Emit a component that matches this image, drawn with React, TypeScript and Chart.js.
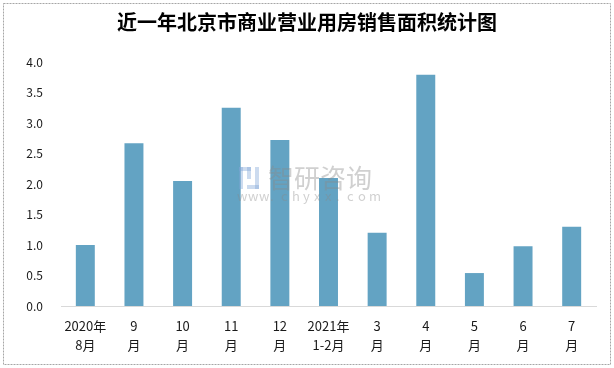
import React, { useEffect, useRef } from "react";
import { Chart, registerables } from "chart.js";

Chart.register(...registerables);

const TITLE = "近一年北京市商业营业用房销售面积统计图";
const categories: string[][] = [
  ["2020年", "8月"],
  ["9", "月"],
  ["10", "月"],
  ["11", "月"],
  ["12", "月"],
  ["2021年", "1-2月"],
  ["3", "月"],
  ["4", "月"],
  ["5", "月"],
  ["6", "月"],
  ["7", "月"],
];
const salesArea: number[] = [1.0, 2.67, 2.05, 3.25, 2.72, 2.1, 1.2, 3.79, 0.54, 0.98, 1.3];
const yTicks: number[] = [0, 0.5, 1.0, 1.5, 2.0, 2.5, 3.0, 3.5, 4.0];

const FONT = "'Noto Sans CJK SC', 'Noto Sans', sans-serif";

const decorPlugin = {
  id: "decor",
  beforeDraw(chart: any) {
    const ctx = chart.ctx;
    ctx.save();
    ctx.fillStyle = "#ffffff";
    ctx.fillRect(0, 0, chart.width, chart.height);
    ctx.restore();
  },
  afterDraw(chart: any) {
    const ctx = chart.ctx;
    ctx.save();
    // border
    ctx.strokeStyle = "#a6a6a6";
    ctx.lineWidth = 1;
    ctx.setLineDash([2, 1]);
    ctx.strokeRect(3.5, 3.5, chart.width - 7, chart.height - 7);
    ctx.setLineDash([]);
    // title
    ctx.fillStyle = "#000000";
    ctx.font = `bold 20px ${FONT}`;
    ctx.textAlign = "center";
    ctx.textBaseline = "middle";
    ctx.fillText(TITLE, chart.width / 2, 22);
    // watermark
    ctx.globalAlpha = 0.4;
    ctx.fillStyle = "#8a8a8a";
    ctx.font = `26px ${FONT}`;
    ctx.textAlign = "left";
    ctx.fillText("智研咨询", 268, 178);
    ctx.font = `13px ${FONT}`;
    const wm = "www.chyxx.com";
    let x = 237;
    for (const ch of wm) {
      ctx.fillText(ch, x, 196);
      x += 11;
    }
    // logo blocks
    ctx.fillStyle = "#7fa6d6";
    ctx.fillRect(239, 167, 4, 22);
    ctx.fillRect(239, 167, 12, 4);
    ctx.fillRect(247, 167, 4, 12);
    ctx.fillRect(255, 167, 4, 22);
    ctx.fillRect(247, 185, 12, 4);
    ctx.restore();
  },
};

export default function App() {
  const canvasRef = useRef<HTMLCanvasElement | null>(null);

  useEffect(() => {
    if (!canvasRef.current) return;
    const chart = new Chart(canvasRef.current, {
      type: "bar",
      data: {
        labels: categories,
        datasets: [
          {
            label: "销售面积",
            data: salesArea,
            backgroundColor: "#63a3c3",
            borderWidth: 0,
            barPercentage: 0.39,
            categoryPercentage: 1.0,
          },
        ],
      },
      options: {
        animation: false,
        responsive: false,
        maintainAspectRatio: false,
        layout: { padding: { top: 62, left: 0, right: 18, bottom: 0 } },
        plugins: {
          legend: { display: false },
          title: { display: false },
          tooltip: { enabled: false },
        },
        scales: {
          x: {
            grid: { display: false, drawTicks: false },
            border: { display: true, color: "#d9d9d9", width: 1 },
            ticks: {
              color: "#1a1a1a",
              font: { family: FONT, size: 13, lineHeight: 1.45 },
              padding: 11,
              maxRotation: 0,
              autoSkip: false,
            },
            afterFit: (scale: any) => {
              scale.height = 62;
            },
          },
          y: {
            min: 0,
            max: 4,
            afterBuildTicks: (scale: any) => {
              scale.ticks = yTicks.map((v) => ({ value: v }));
            },
            grid: { display: false, drawTicks: false },
            border: { display: false },
            ticks: {
              color: "#1a1a1a",
              font: { family: FONT, size: 12 },
              padding: 18,
              callback: (v: any) => Number(v).toFixed(1),
            },
            afterFit: (scale: any) => {
              scale.width = 61;
            },
          },
        },
      },
      plugins: [decorPlugin],
    });
    return () => chart.destroy();
  }, []);

  return (
    <div style={{ position: "fixed", left: 0, top: 0, width: 614, height: 368 }}>
      <canvas ref={canvasRef} width={614} height={368} style={{ width: 614, height: 368, display: "block" }} />
    </div>
  );
}
